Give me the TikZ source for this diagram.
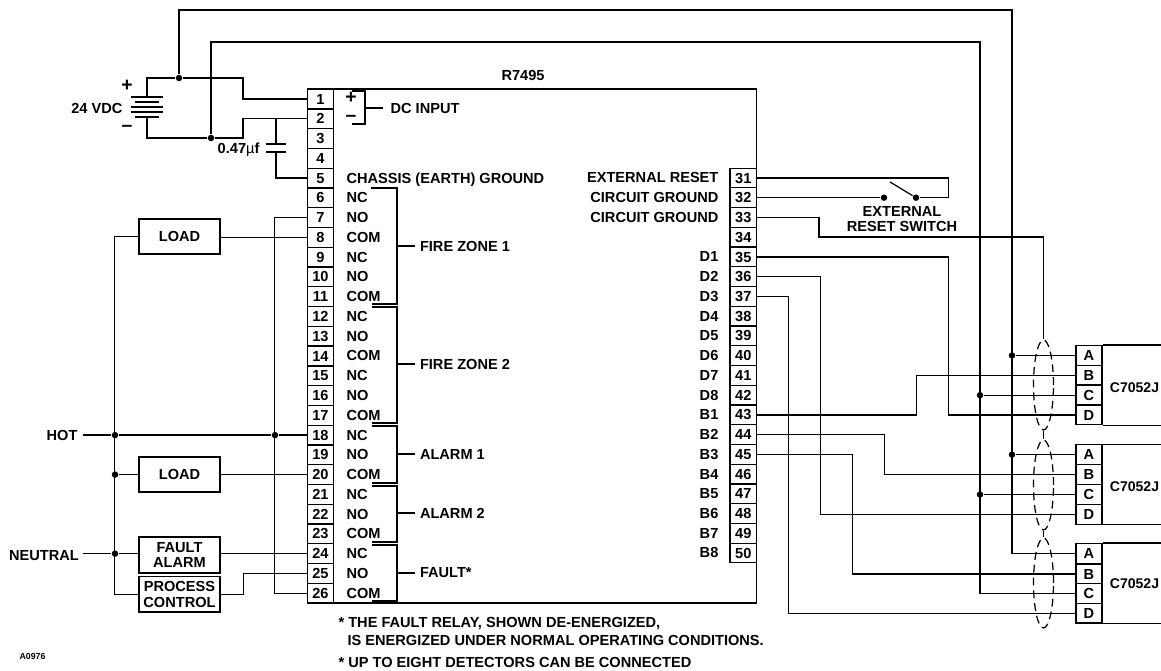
\documentclass[tikz,border=0pt]{standalone}
\usepackage{fontspec}
\setmainfont{Liberation Sans}
\usetikzlibrary{shapes.geometric}

\begin{document}
\begin{tikzpicture}[x=0.02cm,y=0.02cm,line width=0.7pt,line cap=butt]
        \tikzstyle{every node}+=[inner sep=0pt,font=\fontsize{8.3}{9}\selectfont\bfseries]
        \tikzstyle{term}=[draw,minimum width=0.532cm,minimum height=0.395cm]
        \tikzstyle{lab}=[anchor=base west]
        \tikzstyle{rlab}=[anchor=base east]
        \tikzstyle{stemlab}=[anchor=west,inner xsep=2.5pt]
        \tikzstyle{boxed}=[draw,align=center,minimum width=1.62cm,minimum height=0.7cm]
        \tikzstyle{dot}=[circle,fill=black,minimum size=0.13cm]
        \tikzstyle{sign}=[anchor=center,font=\fontsize{11}{12}\selectfont\bfseries]
        \tikzstyle{shield}=[ellipse,draw,dash pattern=on 4.5pt off 2.8pt,minimum width=0.4cm]
        \useasboundingbox (0,0) rectangle (1161,-671);
        % unit outline
        \node [draw,minimum width=8.98cm,minimum height=10.28cm] (unit) at (531.9,-346) {};
        \node [anchor=base] (r7495) at (523,-81) {R7495};
        % left terminals
        \node [term] (t1) at (320.5,-99) {1};
        \node [term] (t2) at (320.5,-118.8) {2};
        \node [term] (t3) at (320.5,-138.5) {3};
        \node [term] (t4) at (320.5,-158.3) {4};
        \node [term] (t5) at (320.5,-178.1) {5};
        \node [term] (t6) at (320.5,-197.9) {6};
        \node [term] (t7) at (320.5,-217.6) {7};
        \node [term] (t8) at (320.5,-237.4) {8};
        \node [term] (t9) at (320.5,-257.2) {9};
        \node [term] (t10) at (320.5,-276.9) {10};
        \node [term] (t11) at (320.5,-296.7) {11};
        \node [term] (t12) at (320.5,-316.5) {12};
        \node [term] (t13) at (320.5,-336.2) {13};
        \node [term] (t14) at (320.5,-356) {14};
        \node [term] (t15) at (320.5,-375.8) {15};
        \node [term] (t16) at (320.5,-395.6) {16};
        \node [term] (t17) at (320.5,-415.3) {17};
        \node [term] (t18) at (320.5,-435.1) {18};
        \node [term] (t19) at (320.5,-454.9) {19};
        \node [term] (t20) at (320.5,-474.6) {20};
        \node [term] (t21) at (320.5,-494.4) {21};
        \node [term] (t22) at (320.5,-514.2) {22};
        \node [term] (t23) at (320.5,-533.9) {23};
        \node [term] (t24) at (320.5,-553.7) {24};
        \node [term] (t25) at (320.5,-573.5) {25};
        \node [term] (t26) at (320.5,-593.3) {26};
        % right terminals
        \node [term] (t31) at (743.3,-178) {31};
        \node [term] (t32) at (743.3,-197.7) {32};
        \node [term] (t33) at (743.3,-217.5) {33};
        \node [term] (t34) at (743.3,-237.2) {34};
        \node [term] (t35) at (743.3,-257) {35};
        \node [term] (t36) at (743.3,-276.7) {36};
        \node [term] (t37) at (743.3,-296.4) {37};
        \node [term] (t38) at (743.3,-316.2) {38};
        \node [term] (t39) at (743.3,-335.9) {39};
        \node [term] (t40) at (743.3,-355.7) {40};
        \node [term] (t41) at (743.3,-375.4) {41};
        \node [term] (t42) at (743.3,-395.1) {42};
        \node [term] (t43) at (743.3,-414.9) {43};
        \node [term] (t44) at (743.3,-434.6) {44};
        \node [term] (t45) at (743.3,-454.4) {45};
        \node [term] (t46) at (743.3,-474.1) {46};
        \node [term] (t47) at (743.3,-493.8) {47};
        \node [term] (t48) at (743.3,-513.6) {48};
        \node [term] (t49) at (743.3,-533.3) {49};
        \node [term] (t50) at (743.3,-553) {50};
        % left labels
        \node [lab] (l5) at (346,-183.1) {CHASSIS (EARTH) GROUND};
        \node [lab] (l6) at (346,-202.9) {NC};
        \node [lab] (l7) at (346,-222.6) {NO};
        \node [lab] (l8) at (346,-242.4) {COM};
        \node [lab] (l9) at (346,-262.2) {NC};
        \node [lab] (l10) at (346,-281.9) {NO};
        \node [lab] (l11) at (346,-301.7) {COM};
        \node [lab] (l12) at (346,-321.5) {NC};
        \node [lab] (l13) at (346,-341.2) {NO};
        \node [lab] (l14) at (346,-361) {COM};
        \node [lab] (l15) at (346,-380.8) {NC};
        \node [lab] (l16) at (346,-400.6) {NO};
        \node [lab] (l17) at (346,-420.3) {COM};
        \node [lab] (l18) at (346,-440.1) {NC};
        \node [lab] (l19) at (346,-459.9) {NO};
        \node [lab] (l20) at (346,-479.6) {COM};
        \node [lab] (l21) at (346,-499.4) {NC};
        \node [lab] (l22) at (346,-519.2) {NO};
        \node [lab] (l23) at (346,-538.9) {COM};
        \node [lab] (l24) at (346,-558.7) {NC};
        \node [lab] (l25) at (346,-578.5) {NO};
        \node [lab] (l26) at (346,-598.3) {COM};
        % right labels
        \node [rlab] (l31) at (719,-183) {EXTERNAL RESET};
        \node [rlab] (l32) at (719,-202.7) {CIRCUIT GROUND};
        \node [rlab] (l33) at (719,-222.5) {CIRCUIT GROUND};
        \node [rlab] (l35) at (719,-262) {D1};
        \node [rlab] (l36) at (719,-281.7) {D2};
        \node [rlab] (l37) at (719,-301.4) {D3};
        \node [rlab] (l38) at (719,-321.2) {D4};
        \node [rlab] (l39) at (719,-340.9) {D5};
        \node [rlab] (l40) at (719,-360.7) {D6};
        \node [rlab] (l41) at (719,-380.4) {D7};
        \node [rlab] (l42) at (719,-400.1) {D8};
        \node [rlab] (l43) at (719,-419.9) {B1};
        \node [rlab] (l44) at (719,-439.6) {B2};
        \node [rlab] (l45) at (719,-459.4) {B3};
        \node [rlab] (l46) at (719,-479.1) {B4};
        \node [rlab] (l47) at (719,-498.8) {B5};
        \node [rlab] (l48) at (719,-518.6) {B6};
        \node [rlab] (l49) at (719,-538.3) {B7};
        \node [rlab] (l50) at (719,-558) {B8};
        % relay brackets
        \node [sign] (dcp) at (351,-98) {+};
        \node [sign] (dcn) at (351,-118) {--};
        \draw (352,-91) -| (365,-124) -- (352,-124);
        \draw (371,-188) -| (397,-304) -- (372,-304);
        \draw (372,-307) -| (397,-423) -- (372,-423);
        \draw (372,-426) -| (397,-483) -- (372,-483);
        \draw (372,-486) -| (397,-542) -- (372,-542);
        \draw (372,-545) -| (397,-601) -- (372,-601);
        \coordinate (sdc) at (365,-108);
        \coordinate (sz1) at (397,-246);
        \coordinate (sz2) at (397,-364);
        \coordinate (sa1) at (397,-454);
        \coordinate (sa2) at (397,-513);
        \coordinate (sf) at (397,-573);
        \node [stemlab,inner xsep=4pt] (dcin) at (383,-108) {DC INPUT};
        \node [stemlab] (fz1) at (415,-246) {FIRE ZONE 1};
        \node [stemlab] (fz2) at (415,-364) {FIRE ZONE 2};
        \node [stemlab] (al1) at (415,-454) {ALARM 1};
        \node [stemlab] (al2) at (415,-513) {ALARM 2};
        \node [stemlab] (flt) at (415,-573) {FAULT*};
        \draw (sdc) -- (dcin.west);
        \draw (sz1) -- (fz1.west);
        \draw (sz2) -- (fz2.west);
        \draw (sa1) -- (al1.west);
        \draw (sa2) -- (al2.west);
        \draw (sf) -- (flt.west);
        % supply
        \coordinate (batp) at (147,-97);
        \coordinate (batn) at (147,-117);
        \node [dot] (plus) at (179,-78) {};
        \node [dot] (minus) at (211,-138) {};
        \coordinate (busa) at (1012,-10);
        \coordinate (busc) at (980,-42);
        \draw (batp) ++(-16,0) -- ++(32,0);
        \draw (batp) ++(-12,-5) -- ++(24,0);
        \draw (batp) ++(-16,-10) -- ++(32,0);
        \draw (batp) ++(-16,-15) -- ++(32,0);
        \draw (batp) ++(-12,-20) -- ++(24,0);
        \node [sign] (bplus) at (127,-86) {+};
        \node [sign] (bminus) at (127,-128) {--};
        \node [rlab] (vdc) at (123,-114) {24 VDC};
        \draw (batp) |- (plus);
        \draw (batn) |- (minus);
        \draw (plus) -- ++(64,0) |- (t1.west);
        \draw (minus) -- ++(32,0) |- (t2.west);
        % capacitor
        \coordinate (capa) at (276,-144);
        \coordinate (capb) at (276,-152);
        \draw (capa) ++(-10,0) -- ++(20,0);
        \draw (capb) ++(-10,0) -- ++(20,0);
        \draw (capa) -- (capa |- t2.west);
        \draw (capb) |- (t5.west);
        \node [rlab] (capv) at (260,-154) {0.47{\mdseries µ}f};
        % load side
        \node [boxed] (load1) at (179.5,-236.5) {LOAD};
        \node [boxed] (load2) at (179.5,-474.5) {LOAD};
        \node [boxed,minimum height=0.72cm] (fa) at (179.5,-555) {FAULT\\ALARM};
        \node [boxed,minimum height=0.71cm] (pc) at (179.5,-594.3) {PROCESS\\CONTROL};
        \node [anchor=east,inner xsep=2.8pt] (hot) at (83,-435.1) {HOT};
        \node [anchor=east,inner xsep=2pt] (neutral) at (83,-556) {NEUTRAL};
        \node [dot] (dh1) at (115,-435.1) {};
        \node [dot] (dh2) at (275,-435.1) {};
        \node [dot] (dl) at (115,-474.6) {};
        \node [dot] (dn) at (115,-553.7) {};
        \draw (hot.east) -- (dh1) -- (dh2) -- (t18.west);
        \draw (neutral.east |- dn) -- (dn) -- (dn -| fa.west);
        \draw (dl) -- (dl -| load2.west);
        \draw (load1.west) -- ++(-24,0) |- (pc.west);
        \draw (t7.west) -- ++(-32.2,0) |- (t26.west);
        \draw (t8.west) -- (t8.west -| load1.east);
        \draw (t20.west) -- (t20.west -| load2.east);
        \draw (t24.west) -- (t24.west -| fa.east);
        \draw (pc.east) -- ++(23,0) |- (t25.west);
        % reset switch
        \node [dot] (swa) at (884,-197.7) {};
        \node [dot] (swb) at (916,-197.7) {};
        \coordinate (blade) at (890,-182);
        \draw (t32.east) -- (swa);
        \draw (t31.east) -- ++(191.4,0) |- (swb);
        \draw (swb) -- (blade);
        \node [align=center] (sw) at (902,-219) {EXTERNAL\\RESET SWITCH};
        % detectors
        \node [term,minimum width=0.52cm] (d1A) at (1089,-355.5) {A};
        \node [term,minimum width=0.52cm] (d1B) at (1089,-375.2) {B};
        \node [term,minimum width=0.52cm] (d1C) at (1089,-395.2) {C};
        \node [term,minimum width=0.52cm] (d1D) at (1089,-415) {D};
        \node [term,minimum width=0.52cm] (d2A) at (1089,-454.7) {A};
        \node [term,minimum width=0.52cm] (d2B) at (1089,-474.5) {B};
        \node [term,minimum width=0.52cm] (d2C) at (1089,-494.5) {C};
        \node [term,minimum width=0.52cm] (d2D) at (1089,-514.3) {D};
        \node [term,minimum width=0.52cm] (d3A) at (1089,-553.5) {A};
        \node [term,minimum width=0.52cm] (d3B) at (1089,-574) {B};
        \node [term,minimum width=0.52cm] (d3C) at (1089,-593.7) {C};
        \node [term,minimum width=0.52cm] (d3D) at (1089,-613.2) {D};
        \draw (d1A.north east) -- ++(59,0);
        \draw (d1D.south east) -- ++(59,0);
        \draw (d2A.north east) -- ++(59,0);
        \draw (d2D.south east) -- ++(59,0);
        \draw (d3A.north east) -- ++(59,0);
        \draw (d3D.south east) -- ++(59,0);
        \node [font=\fontsize{8}{9}\selectfont\bfseries] (c1) at (1134.5,-388) {C7052J};
        \node [font=\fontsize{8}{9}\selectfont\bfseries] (c2) at (1134.5,-487) {C7052J};
        \node [font=\fontsize{8}{9}\selectfont\bfseries] (c3) at (1134.5,-584) {C7052J};
        % shields
        \node [shield,minimum height=1.8cm] (sh1) at (1043.5,-385) {};
        \node [shield,minimum height=1.8cm] (sh2) at (1043.5,-485) {};
        \node [shield,minimum height=1.8cm] (sh3) at (1043.5,-583) {};
        \draw (sh1.south) -- (sh2.north);
        \draw (sh2.south) -- (sh3.north);
        \coordinate (c33) at (819,-237);
        \draw (t33.east) -| (c33) -| (sh1.north);
        % detector wiring
        \node [dot] (da1) at (busa |- d1A) {};
        \node [dot] (da2) at (busa |- d2A) {};
        \node [dot] (dc1) at (busc |- d1C) {};
        \node [dot] (dc2) at (busc |- d2C) {};
        \draw (plus) |- (busa) |- (d3A.west);
        \draw (minus) |- (busc) |- (d3C.west);
        \draw (da1) -- (d1A.west);
        \draw (da2) -- (d2A.west);
        \draw (dc1) -- (d1C.west);
        \draw (dc2) -- (d2C.west);
        \draw (t35.east) -- ++(191.4,0) |- (d1D.west);
        \draw (t36.east) -- ++(63,0) |- (d2D.west);
        \draw (t37.east) -- ++(31,0) |- (d3D.west);
        \draw (t43.east) -- ++(159.4,0) |- (d1B.west);
        \draw (t44.east) -- ++(127.4,0) |- (d2B.west);
        \draw (t45.east) -- ++(95.4,0) |- (d3B.west);
        % notes
        \node [lab] (n1) at (338,-628) {* THE FAULT RELAY, SHOWN DE-ENERGIZED,};
        \node [lab] (n2) at (347,-646) {IS ENERGIZED UNDER NORMAL OPERATING CONDITIONS.};
        \node [lab] (n3) at (338,-668) {* UP TO EIGHT DETECTORS CAN BE CONNECTED};
        \node [lab,font=\fontsize{5}{6}\selectfont\bfseries] (code) at (19,-660) {A0976};
\end{tikzpicture}
\end{document}
